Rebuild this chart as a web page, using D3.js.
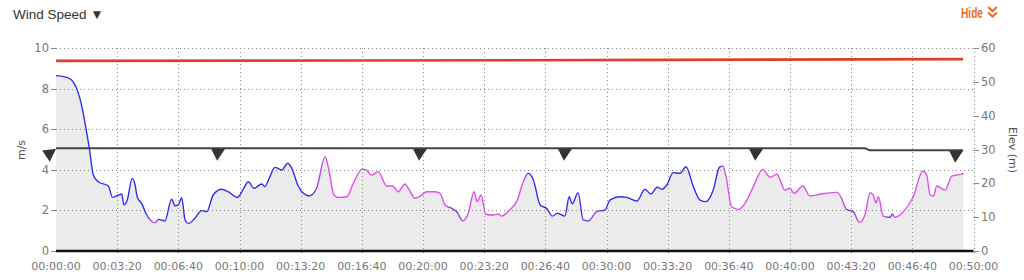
<!DOCTYPE html>
<html><head><meta charset="utf-8">
<script src="https://cdn.jsdelivr.net/npm/d3@7"></script>
<style>
html,body{margin:0;padding:0;background:#fff;}
svg{display:block;}
</style></head>
<body>
<svg id="chart" width="1024" height="280"></svg>
<script>
// ---- data ----
const times = [0,35,51,65,87,95,109,122,138,171,185,215,222,233,249,258,266,280,294,324,335,356,378,389,400,411,422,433,454,476,493,514,542,563,593,612,629,647,673,683,697,716,738,758,771,792,809,828,852,880,890,909,923,951,972,1000,1011,1032,1054,1081,1101,1119,1141,1152,1174,1196,1212,1239,1256,1272,1294,1310,1330,1348,1367,1377,1390,1405,1425,1446,1457,1485,1506,1528,1544,1561,1583,1604,1623,1639,1664,1678,1688,1707,1724,1741,1768,1795,1811,1844,1866,1899,1926,1945,1966,1981,1997,2018,2040,2060,2084,2106,2125,2149,2169,2180,2191,2209,2231,2253,2280,2311,2335,2357,2384,2400,2413,2442,2465,2504,2553,2566,2585,2607,2627,2645,2662,2672,2681,2689,2705,2727,2735,2743,2771,2803,2834,2847,2858,2869,2880,2907,2929,2961,2966];
const speed = [8.64,8.55,8.42,8.09,6.95,6.29,5.06,3.74,3.41,3.2,2.64,2.81,2.27,2.51,3.58,3.3,2.64,2.35,1.86,1.39,1.56,1.48,2.55,2.23,2.27,2.63,1.53,1.36,1.61,1.99,1.94,2.76,3.04,2.92,2.64,3.04,3.41,3.09,3.3,3.17,3.58,4.12,3.99,4.32,4.07,3.2,2.84,2.71,3.09,4.65,4.15,2.76,2.64,2.67,3.33,4.02,4.02,3.74,3.91,3.2,3.2,2.92,3.3,3.09,2.6,2.76,2.92,2.92,2.84,2.27,2.1,1.94,1.49,1.86,2.92,2.43,2.76,1.81,1.77,1.82,1.72,2.05,2.43,3.41,3.83,3.5,2.27,2.1,1.72,1.86,1.72,2.67,2.32,2.87,1.53,1.48,1.94,2.02,2.51,2.67,2.64,2.46,3.04,2.81,3.14,3.04,3.25,3.86,3.83,4.15,3.17,2.51,2.43,3.0,4.12,4.19,3.66,2.18,2.05,2.35,3.17,4.02,3.63,3.78,3.0,3.09,2.84,3.2,2.71,2.81,2.89,2.67,2.05,1.94,1.41,1.77,2.87,2.76,2.38,2.67,1.72,1.66,1.82,1.66,1.94,2.67,3.94,3.74,2.76,2.71,3.2,3.0,3.69,3.79,3.83];
// 0 = blue, 1 = magenta
const colorMix = [0,0,0,0,0,0,0,0,0,0,0,0,0,0,0,0,0,0,0,1,0,0,0,0,0,0,0,0.5,0,0,0,0,0,0,0,0,0,0,0,0,0,0,0,0,0,0,0,0,0.5,1,1,1,1,1,1,1,1,1,1,1,1,1,1,1,1,1,1,1,1,1,0.6,0.3,0.8,1,1,1,1,1,1,1,1,1,1,1,0.3,0,0,0,0.5,0,0,0,0,0,0.3,0.5,0.6,0.2,0,0,0,0,0,0,0,0,0,0,0,0,0,0,0,0,0,0.8,1,1,1,1,1,1,1,1,1,1,1,1,1,1,1,1,0.6,0.4,1,1,1,1,1,1,1,0.2,0.6,1,1,1,1,1,1,1,1,1,1,1];
const elevTimes = [0,1000,2000,2966];
const elev = [56.2,56.3,56.5,56.7];
const dirTimes = [0,2645,2660,2966];
const dirLevel = [30.4,30.4,29.8,29.8];
const arrowTimes = [0,553,1213,1687,2312,2966];
const arrowRot = [-8,0,0,0,0,0];
const xTicks = d3.range(0,3001,200);
const leftTicks = [0,2,4,6,8,10];
const rightTicks = [0,10,20,30,40,50,60];

// ---- layout ----
const svg = d3.select("#chart");
const x = d3.scaleLinear().domain([0,3000]).range([56,973.5]);
const yL = d3.scaleLinear().domain([0,10]).range([251,48]);
const yR = d3.scaleLinear().domain([0,60]).range([251,48]);
const pts = times.map((t,i)=>({t, v:speed[i], c:colorMix[i]}));
const tickFont = "DejaVu Sans, sans-serif";

// header
svg.append("text").attr("x",13).attr("y",19).attr("font-family","Liberation Sans, Arial, sans-serif")
  .attr("font-size",13.5).attr("fill","#333").text("Wind Speed \u25BC");
svg.append("text").attr("x",961).attr("y",17.5).attr("font-family","Liberation Sans, Arial, sans-serif")
  .attr("font-weight","bold").attr("font-size",15).attr("fill","#f26c22")
  .attr("textLength",22).attr("lengthAdjust","spacingAndGlyphs").text("Hide");
svg.append("path").attr("d","M988,7 L992.5,11 L997,7 M988,12.5 L992.5,16.5 L997,12.5")
  .attr("fill","none").attr("stroke","#f26c22").attr("stroke-width",2.2);

// area
const area = d3.area().x(d=>x(d.t)).y0(yL(0)).y1(d=>yL(d.v)).curve(d3.curveMonotoneX);
svg.append("path").datum(pts).attr("d",area).attr("fill","#ebebeb");

// grid
const grid = svg.append("g").attr("stroke","#8a8a8a").attr("stroke-width",1).attr("stroke-dasharray","1,3");
grid.selectAll("line.v").data(xTicks.filter(t=>t>0)).join("line")
  .attr("x1",d=>Math.round(x(d))+0.5).attr("x2",d=>Math.round(x(d))+0.5).attr("y1",yL(10)).attr("y2",yL(0)+4);
grid.selectAll("line.h").data(leftTicks.filter(t=>t>0)).join("line").attr("class","h")
  .attr("x1",x(0)).attr("x2",x(3000)).attr("y1",d=>Math.round(yL(d))+0.5).attr("y2",d=>Math.round(yL(d))+0.5);

// left axis
const lax = svg.append("g");
lax.selectAll("line").data(leftTicks).join("line").attr("x1",51).attr("x2",56)
  .attr("y1",d=>Math.round(yL(d))+0.5).attr("y2",d=>Math.round(yL(d))+0.5).attr("stroke","#888");
lax.selectAll("text").data(leftTicks).join("text").attr("x",49).attr("y",d=>yL(d)).attr("dy","0.35em")
  .attr("text-anchor","end").attr("font-family",tickFont).attr("font-size",11.5).attr("fill","#777").text(d=>d);
svg.append("text").attr("transform","translate(25,150) rotate(-90)").attr("text-anchor","middle")
  .attr("font-family",tickFont).attr("font-size",11).attr("fill","#555").text("m/s");

// right axis
const rax = svg.append("g");
rax.selectAll("line").data(rightTicks).join("line").attr("x1",973.5).attr("x2",979)
  .attr("y1",d=>Math.round(yR(d))+0.5).attr("y2",d=>Math.round(yR(d))+0.5).attr("stroke","#888");
rax.selectAll("text").data(rightTicks).join("text").attr("x",981).attr("y",d=>yR(d)).attr("dy","0.35em")
  .attr("text-anchor","start").attr("font-family",tickFont).attr("font-size",11.5).attr("fill","#777").text(d=>d);
svg.append("text").attr("transform","translate(1009,150) rotate(90)").attr("text-anchor","middle")
  .attr("font-family",tickFont).attr("font-size",11).attr("fill","#555").text("Elev (m)");

// bottom axis
const fmt = s => { const h=Math.floor(s/3600), m=Math.floor(s%3600/60), sec=s%60;
  return [h,m,sec].map(n=>String(n).padStart(2,"0")).join(":"); };
const bax = svg.append("g");
bax.selectAll("text").data(xTicks).join("text").attr("x",d=>x(d)).attr("y",270)
  .attr("text-anchor","middle").attr("font-family",tickFont).attr("font-size",11).attr("fill","#777").text(fmt);
svg.append("line").attr("x1",x(0)).attr("x2",x(3000)).attr("y1",yL(0)).attr("y2",yL(0))
  .attr("stroke","#111").attr("stroke-width",2.5);

// elevation (red)
const elevLine = d3.line().x((d,i)=>x(elevTimes[i])).y(d=>yR(d));
svg.append("path").datum(elev).attr("d",elevLine).attr("fill","none").attr("stroke","#e23d28").attr("stroke-width",2.6);

// direction baseline
const dirLine = d3.line().x((d,i)=>x(dirTimes[i])).y(d=>yR(d));
svg.append("path").datum(dirLevel).attr("d",dirLine).attr("fill","none").attr("stroke","#444").attr("stroke-width",2);

// arrows
const dirAt = t => { for(let i=dirTimes.length-1;i>=0;i--){ if(t>=dirTimes[i]) return dirLevel[i]; } return dirLevel[0]; };
svg.selectAll("path.arrow").data(arrowTimes).join("path").attr("class","arrow")
  .attr("d","M-14,0 L0,0 L-8,12 Z").attr("fill","#333")
  .attr("transform",(d,i)=>`translate(${x(d)},${yR(dirAt(d))+0.5}) rotate(${arrowRot[i]})`);

// wind speed line with gradient
const blue = "#2f2ff2", mag = "#e04ee8";
const grad = svg.append("defs").append("linearGradient").attr("id","wg").attr("gradientUnits","userSpaceOnUse")
  .attr("x1",x(times[0])).attr("x2",x(times[times.length-1])).attr("y1",0).attr("y2",0);
const t0 = times[0], t1 = times[times.length-1];
grad.selectAll("stop").data(pts).join("stop").attr("offset",d=>(d.t-t0)/(t1-t0))
  .attr("stop-color",d=>d3.interpolateRgb(blue,mag)(d.c));
const line = d3.line().x(d=>x(d.t)).y(d=>yL(d.v)).curve(d3.curveMonotoneX);
svg.append("path").datum(pts).attr("d",line).attr("fill","none").attr("stroke","url(#wg)").attr("stroke-width",1.4);
</script>
</body></html>
